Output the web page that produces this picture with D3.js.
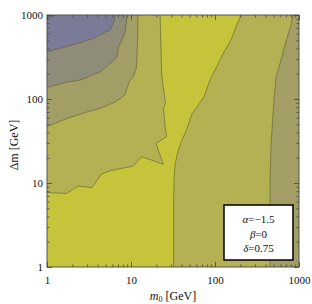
<!DOCTYPE html>
<html>
<head>
<meta charset="utf-8">
<script src="https://cdn.jsdelivr.net/npm/d3@7"></script>
<style>
  body { margin: 0; background: #fff; }
  svg { display: block; }
  text { font-family: "Liberation Serif", "Times New Roman", serif; fill: #111; }
</style>
</head>
<body>
<svg id="chart" width="312" height="304"></svg>
<script>
// axis ticks (log scale on both axes)
const majorTicks = [1, 10, 100, 1000];
const minorTicks = [2, 3, 4, 5, 6, 7, 8, 9, 20, 30, 40, 50, 60, 70, 80, 90, 200, 300, 400, 500, 600, 700, 800, 900];

// fill colours, darkest (top left) to brightest
const levelColors = ["#6a6aa8", "#7b7b98", "#8f8d79", "#a29e65", "#b4b155", "#c5c43b"];

// contour lines, points are [m0, dm] in GeV
const edgeBright = [[1, 7.7], [1.71, 7.5], [2.34, 9.2], [3.43, 8.8], [4.46, 12.8], [5.78, 14.1], [10.6, 15.9],
  [13.4, 20.6], [24.2, 16.7], [19.8, 29.7], [26.6, 35.6], [25.7, 42.7], [24.4, 78.1], [25.7, 88.4], [23.2, 193], [22.2, 1000]];
const edgeBrightRight = [[32.1, 1], [32.1, 5.5], [32.5, 10.9], [33.4, 16.4], [35.3, 21.5], [39.4, 30.8], [45.2, 41.6],
  [53.2, 66.2], [64.5, 87.2], [74, 106], [87.2, 168], [103, 234], [128, 363], [155, 504], [178, 719], [204, 1000]];
const edgeRight = [[848, 1000], [803, 760], [740, 578], [681, 439], [611, 291], [532, 183], [504, 97.3],
  [490, 64.5], [464, 28.3], [452, 10.9], [452, 1]];
const edgeLeft3 = [[1, 47.1], [1.73, 58.6], [2.99, 70], [4.27, 77.1], [6.45, 92.1], [8.48, 112], [8.96, 135],
  [9.73, 168], [10.6, 183], [11.6, 234], [12, 504], [12.1, 1000]];
const edgeLeft2 = [[1, 137], [1.73, 159], [2.47, 168], [4.27, 210], [5.62, 265], [6.81, 316], [7.1, 416],
  [8.48, 611], [8.96, 946], [9.09, 1000]];
const edgeLeft1 = [[1, 366], [1.73, 422], [2.47, 468], [3.53, 528], [5.62, 663], [6.27, 826], [6.45, 1000]];
const edgeLeft0 = [[1, 933], [1.15, 950], [1.28, 1000]];

const margin = {top: 15, right: 13, bottom: 37, left: 47};
const width = 312 - margin.left - margin.right,
      height = 304 - margin.top - margin.bottom;

const svg = d3.select("#chart");
const g = svg.append("g").attr("transform", "translate(" + margin.left + "," + margin.top + ")");

const x = d3.scaleLog().domain([1, 1000]).range([0, width]);
const y = d3.scaleLog().domain([1, 1000]).range([height, 0]);

const path = d3.line().x(d => x(d[0])).y(d => y(d[1]));

g.append("clipPath").attr("id", "plotclip")
  .append("rect").attr("width", width).attr("height", height);

const area = g.append("g").attr("clip-path", "url(#plotclip)");

// background level
area.append("rect").attr("width", width).attr("height", height).attr("fill", levelColors[4]);

// filled regions
const regions = [
  {pts: [[1, 1]].concat(edgeBright, edgeBrightRight.slice().reverse()), c: levelColors[5]},
  {pts: edgeRight.concat([[1000, 1], [1000, 1000]]), c: levelColors[3]},
  {pts: edgeLeft3.concat([[1, 1000]]), c: levelColors[3]},
  {pts: edgeLeft2.concat([[1, 1000]]), c: levelColors[2]},
  {pts: edgeLeft1.concat([[1, 1000]]), c: levelColors[1]},
  {pts: edgeLeft0.concat([[1, 1000]]), c: levelColors[0]}
];

area.selectAll("path.region")
  .data(regions)
  .enter()
  .append("path")
  .attr("class", "region")
  .attr("d", d => path(d.pts) + "Z")
  .attr("fill", d => d.c);

// contour lines
area.selectAll("path.contour")
  .data([edgeBright, edgeBrightRight, edgeRight, edgeLeft3, edgeLeft2, edgeLeft1, edgeLeft0])
  .enter()
  .append("path")
  .attr("class", "contour")
  .attr("d", path)
  .attr("fill", "none")
  .attr("stroke", "#5f5d2c")
  .attr("stroke-opacity", 0.75)
  .attr("stroke-width", 0.8);

// frame
g.append("rect")
  .attr("width", width).attr("height", height)
  .attr("fill", "none").attr("stroke", "#555").attr("stroke-width", 1);

// ticks pointing inward on all four sides
function ticks(axis, values, size, transform, labels) {
  const a = g.append("g").attr("transform", transform)
    .call(axis.tickValues(values).tickSizeInner(-size).tickSizeOuter(0)
      .tickFormat(labels ? d3.format("d") : ""));
  a.attr("font-family", "'Liberation Serif', 'Times New Roman', serif");
  a.select(".domain").remove();
  a.selectAll(".tick line").attr("stroke", "#444").attr("stroke-width", 0.8);
  a.selectAll("text").attr("font-size", 11).attr("fill", "#111");
  return a;
}

const xb = ticks(d3.axisBottom(x), majorTicks, 5, "translate(0," + height + ")", true);
xb.selectAll("text").attr("y", 9);
ticks(d3.axisBottom(x), minorTicks, 2.5, "translate(0," + height + ")", false);
ticks(d3.axisTop(x), majorTicks, 5, "translate(0,0)", false);
ticks(d3.axisTop(x), minorTicks, 2.5, "translate(0,0)", false);

const yl = ticks(d3.axisLeft(y), majorTicks, 5, "translate(0,0)", true);
yl.selectAll("text").attr("x", -4);
ticks(d3.axisLeft(y), minorTicks, 2.5, "translate(0,0)", false);
ticks(d3.axisRight(y), majorTicks, 5, "translate(" + width + ",0)", false);
ticks(d3.axisRight(y), minorTicks, 2.5, "translate(" + width + ",0)", false);

// axis titles
const xt = svg.append("text")
  .attr("x", margin.left + width / 2)
  .attr("y", 300)
  .attr("text-anchor", "middle")
  .attr("font-size", 12);
xt.append("tspan").attr("font-style", "italic").text("m");
xt.append("tspan").attr("font-size", 8).attr("dy", 2).text("0");
xt.append("tspan").attr("dy", -2).text(" [GeV]");

svg.append("text")
  .attr("transform", "translate(18," + (margin.top + height / 2 + 4) + ") rotate(-90)")
  .attr("text-anchor", "middle")
  .attr("font-size", 12)
  .text("\u0394m [GeV]");

// parameter box
const boxX = x(10 ** 2.107), boxY = y(10 ** 0.738);
const box = g.append("g").attr("transform", "translate(" + boxX + "," + boxY + ")");
box.append("rect")
  .attr("width", 69).attr("height", 55)
  .attr("fill", "#fff").attr("stroke", "#000").attr("stroke-width", 1.5);

const params = [["\u03b1", "=\u22121.5"], ["\u03b2", "=0"], ["\u03b4", "=0.75"]];
params.forEach((p, i) => {
  const t = box.append("text")
    .attr("x", 34.5).attr("y", 18 + i * 14.5)
    .attr("text-anchor", "middle").attr("font-size", 11);
  t.append("tspan").attr("font-style", "italic").text(p[0]);
  t.append("tspan").text(p[1]);
});
</script>
</body>
</html>
